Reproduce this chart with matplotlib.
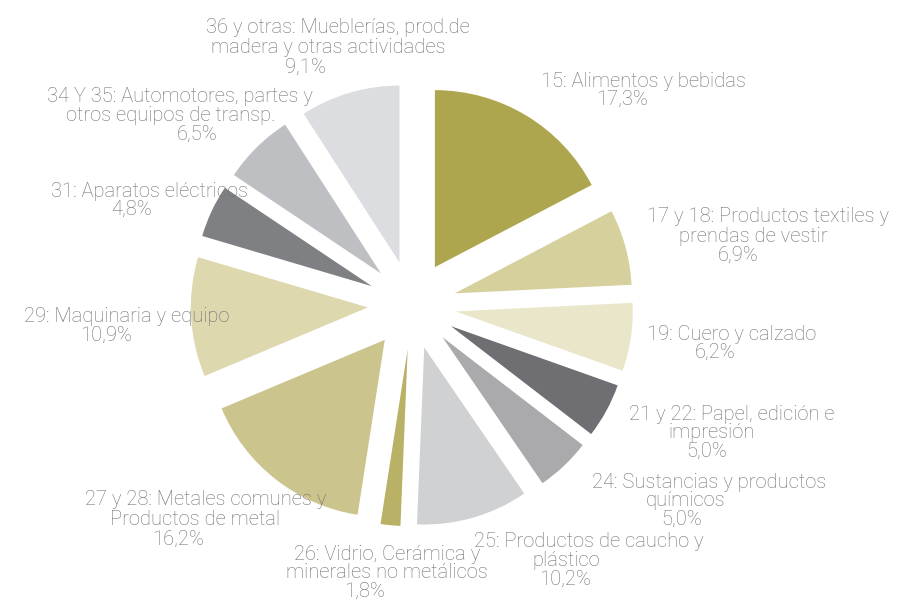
import matplotlib
matplotlib.use("Agg")
import matplotlib.pyplot as plt
from matplotlib import font_manager

# ---------------- data ----------------
categories = [
    ["15: Alimentos y bebidas"],
    ["17 y 18: Productos textiles y", "prendas de vestir"],
    ["19: Cuero y calzado"],
    ["21 y 22: Papel, edición e", "impresión"],
    ["24: Sustancias y productos", "químicos"],
    ["25: Productos de caucho y", "plástico"],
    ["26: Vidrio, Cerámica y", "minerales no metálicos"],
    ["27 y 28: Metales comunes y", "Productos de metal"],
    ["29: Maquinaria y equipo"],
    ["31: Aparatos eléctricos"],
    ["34 Y 35: Automotores, partes y", "otros equipos de transp."],
    ["36 y otras: Mueblerías, prod.de", "madera y otras actividades"],
]
values = [17.3, 6.9, 6.2, 5.0, 5.0, 10.2, 1.8, 16.2, 10.9, 4.8, 6.5, 9.1]

# ---------------- style / layout ----------------
colors = ["#aea64f", "#d6d09d", "#e9e6c9", "#6f6f73", "#aaaaad", "#d0d1d3",
          "#b9b166", "#ccc48d", "#ddd8ad", "#7f8084", "#bebfc2", "#dcdde0"]

# per-line (x centre, baseline y) in image pixels (y from top)
line_pos = [
    [(643, 87), (622, 105)],
    [(768, 222), (753, 242), (738, 261)],
    [(732, 340), (715, 358)],
    [(732, 420), (712, 438), (707, 457)],
    [(709, 488), (686, 506), (682, 525)],
    [(589, 547), (566, 566), (565, 585)],
    [(387, 560), (387, 578), (365, 597)],
    [(206, 505), (195, 525), (178, 545)],
    [(127, 322), (106, 341)],
    [(150, 197), (132, 215)],
    [(180, 102), (171, 121), (197, 140)],
    [(338, 33), (328, 53), (305, 73)],
]

W, H = 904, 602
fig = plt.figure(figsize=(W / 100, H / 100), dpi=100)
ax = fig.add_axes([0, 0, 1, 1])

cx, cy, R = 412, H - 305, 177
ax.pie(values, colors=colors, startangle=90, counterclock=False,
       explode=[0.25 * R] * len(values), radius=R, center=(cx, cy),
       wedgeprops=dict(linewidth=0))
ax.set_xlim(0, W)
ax.set_ylim(0, H)
ax.set_aspect("equal")
ax.axis("off")

avail = {f.name for f in font_manager.fontManager.ttflist}
fam = ["Liberation Sans Narrow", "DejaVu Sans"] if "Liberation Sans Narrow" in avail \
    else ["Roboto", "DejaVu Sans"]

for cat, v, poss in zip(categories, values, line_pos):
    lines = list(cat) + [f"{v:.1f}".replace(".", ",") + "%"]
    for txt, (x, y) in zip(lines, poss):
        ax.text(x, H - y, txt, ha="center", va="baseline", fontsize=14.5,
                color="#707070", family=fam, fontweight="light")

fig.savefig("out.png", dpi=100, facecolor="white")
